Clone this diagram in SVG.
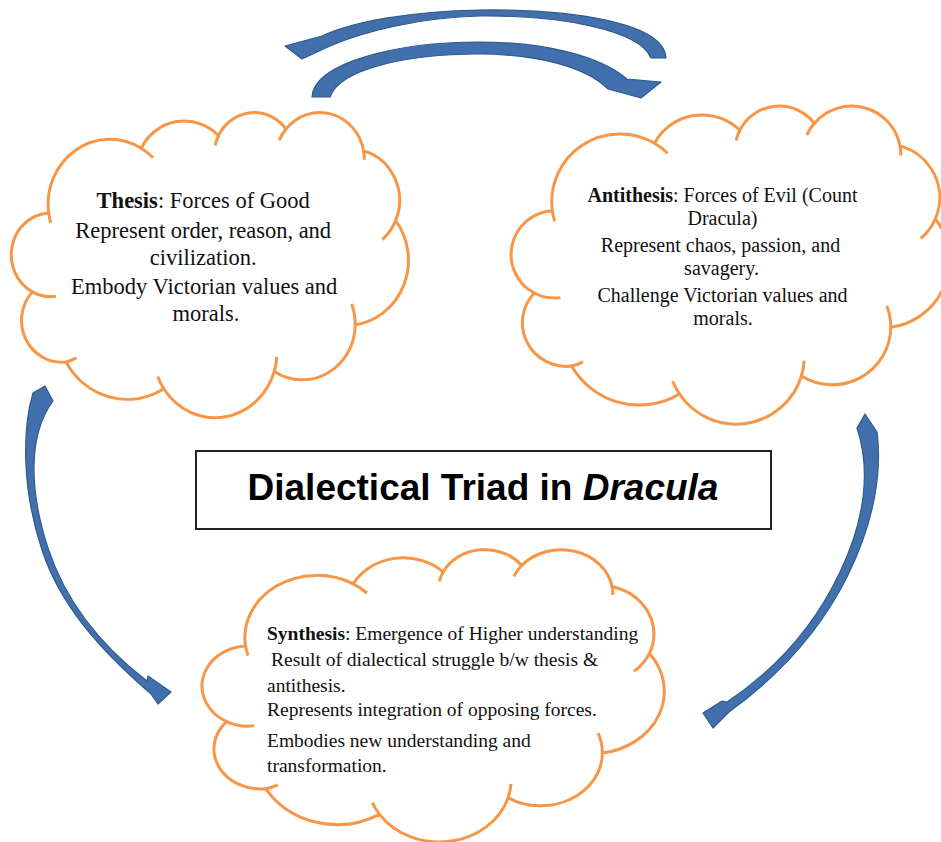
<svg xmlns="http://www.w3.org/2000/svg" xmlns:xlink="http://www.w3.org/1999/xlink" width="941" height="842" viewBox="0 0 941 842">
<style>
.cloud{fill:#fff;stroke:#F79646;stroke-width:3;vector-effect:non-scaling-stroke;}
.hook{fill:none;stroke:#F79646;stroke-width:3;vector-effect:non-scaling-stroke;}
.txt{font-family:"Liberation Serif","Times New Roman",serif;fill:#111;}
.b{font-weight:bold;}
.arrow{fill:#4170AD;stroke:#2F5B8E;stroke-width:1.2;stroke-linejoin:round;}
.title{font-family:"Liberation Sans",Arial,sans-serif;font-weight:bold;font-size:37px;fill:#000;}
</style>
<defs>
<path id="cloudShape" class="cloud" d="M 39 143.7 A 67.53 91.9 0 0 1 140.05 52.02 A 53.33 72.67 0 0 1 224.56 34.33 A 43.65 59.45 0 0 1 298.33 24.82 A 48.57 65.95 0 0 1 383.17 55.78 A 53.33 72.73 0 0 1 418.17 154.62 A 67.75 92.2 0 0 1 374.04 302.06 A 57.85 78.67 0 0 1 285.55 368.16 A 67.52 92.15 0 0 1 164.79 392.65 A 77.2 105.43 0 0 1 58.03 354.7 A 43.6 59.18 0 0 1 21.1 255.49 A 43.45 59.45 0 0 1 39 143.7 Z"/>
<path id="cloudHooks" class="hook" d="M 46.93 261.77 A 43.45 59.45 0 0 1 21.1 255.49 M 69.28 348.99 A 43.6 59.18 0 0 1 58.03 354.7 M 164.79 392.65 A 67.52 92.15 0 0 1 158.12 375.26 M 288.27 347.51 A 67.52 92.15 0 0 1 285.55 368.16 M 370.06 272.77 A 57.85 78.67 0 0 1 374.04 302.06 M 418.17 154.62 A 53.33 72.73 0 0 1 403.71 181.36 M 383.17 55.78 A 48.57 65.95 0 0 1 383.93 68.42 M 290.9 40.96 A 48.57 65.95 0 0 1 298.33 24.82 M 220.97 48.22 A 43.65 59.45 0 0 1 224.56 34.33 M 140.05 52.02 A 67.53 91.9 0 0 1 153.05 65.51 M 41.27 157.88 A 67.53 91.9 0 0 1 39 143.7"/>
</defs>
<rect width="941" height="842" fill="#fff"/>

<g id="thesis">
<g transform="translate(13 111.5) scale(0.915 0.706)"><use href="#cloudShape"/><use href="#cloudHooks"/></g>
<text class="txt" font-size="22.5" text-anchor="middle">
<tspan x="206" y="208"><tspan class="b">Thesis</tspan>: Forces of Good</tspan>
<tspan x="206" y="238">Represent order, reason, and</tspan>
<tspan x="206" y="265">civilization.</tspan>
<tspan x="207" y="294">Embody Victorian values and</tspan>
<tspan x="206" y="321">morals.</tspan>
</text>
</g>

<g id="antithesis">
<g transform="translate(513 105) scale(1.01 0.736)"><use href="#cloudShape"/><use href="#cloudHooks"/></g>
<text class="txt" font-size="20" text-anchor="middle">
<tspan x="725" y="202"><tspan class="b">Antithesis</tspan>: Forces of Evil (Count</tspan>
<tspan x="725" y="225">Dracula)</tspan>
<tspan x="723" y="252">Represent chaos, passion, and</tspan>
<tspan x="724" y="275">savagery.</tspan>
<tspan x="725" y="302">Challenge Victorian values and</tspan>
<tspan x="723" y="325">morals.</tspan>
</text>
</g>

<g id="synthesis">
<g transform="translate(204 548.7) scale(1.065 0.6765)"><use href="#cloudShape"/><use href="#cloudHooks"/></g>
<text class="txt" font-size="19.5">
<tspan x="267" y="640"><tspan class="b">Synthesis</tspan>: Emergence of Higher understanding</tspan>
<tspan x="271" y="666">Result of dialectical struggle b/w thesis &amp;</tspan>
<tspan x="267" y="692">antithesis.</tspan>
<tspan x="267" y="716">Represents integration of opposing forces.</tspan>
<tspan x="267" y="747">Embodies new understanding and</tspan>
<tspan x="267" y="772">transformation.</tspan>
</text>
</g>

<g id="title">
<rect x="196" y="451" width="575" height="78" fill="#fff" stroke="#222" stroke-width="2"/>
<text class="title" x="483" y="500" text-anchor="middle">Dialectical Triad in <tspan font-style="italic">Dracula</tspan></text>
</g>

<g id="connectors">
<path class="arrow" d="M 666 58 C 664 22 570 9 480 10 C 410 11 352 22 322 36 L 285 46 L 302 59 L 330 46 C 362 32 420 17 480 16 C 560 15 640 30 651 58 Z"/>
<path class="arrow" d="M 312 97 C 314 62 400 42 478 42 C 545 42 600 56 627 79 L 661 82 L 641 98 L 608 89 C 585 66 535 54 478 54 C 410 54 340 68 330 97 Z"/>
<path class="arrow" d="M 33 393 L 45 386 L 53 401 C 28 435 29 490 48 548 C 66 603 100 645 147 681 L 148 676 L 171 692 L 158 704 L 151 694 C 100 650 60 605 42 550 C 22 490 22 430 33 393 Z"/>
<path class="arrow" d="M 857 428 L 865 414 L 877 432 C 882 470 875 520 848 575 C 822 628 780 675 729 712 L 713 728 L 703 713 L 722 701 L 727 702 C 778 668 815 625 840 572 C 865 520 871 470 857 428 Z"/>
</g>
</svg>
